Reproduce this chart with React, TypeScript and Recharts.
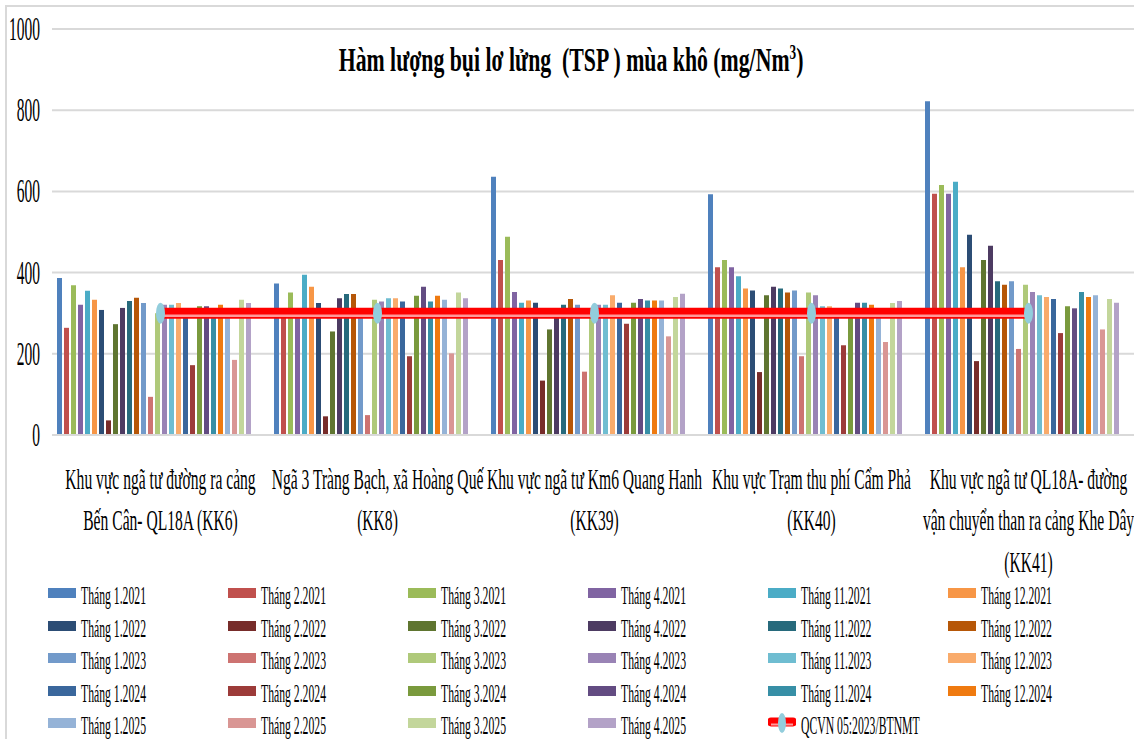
import React from "react";
import { ComposedChart, Bar, Line, XAxis, YAxis, CartesianGrid, Legend } from "recharts";

const sites = [
  "Khu vực ngã tư đường ra cảng\nBến Cân- QL18A (KK6)",
  "Ngã 3 Tràng Bạch, xã Hoàng Quế\n(KK8)",
  "Khu vực ngã tư Km6 Quang Hanh\n(KK39)",
  "Khu vực Trạm thu phí Cẩm Phả\n(KK40)",
  "Khu vực ngã tư QL18A- đường\nvận chuyển than ra cảng Khe Dây\n(KK41)",
];

const months = [
  "Tháng 1.2021", "Tháng 2.2021", "Tháng 3.2021", "Tháng 4.2021", "Tháng 11.2021", "Tháng 12.2021",
  "Tháng 1.2022", "Tháng 2.2022", "Tháng 3.2022", "Tháng 4.2022", "Tháng 11.2022", "Tháng 12.2022",
  "Tháng 1.2023", "Tháng 2.2023", "Tháng 3.2023", "Tháng 4.2023", "Tháng 11.2023", "Tháng 12.2023",
  "Tháng 1.2024", "Tháng 2.2024", "Tháng 3.2024", "Tháng 4.2024", "Tháng 11.2024", "Tháng 12.2024",
  "Tháng 1.2025", "Tháng 2.2025", "Tháng 3.2025", "Tháng 4.2025",
];

// one value per month, same order as months
const kk6 = [387, 264, 369, 321, 355, 333, 308, 36, 273, 313, 330, 338, 325, 94, 300, 321, 321, 325, 300, 172, 317, 317, 305, 321, 300, 185, 333, 325];
const kk8 = [373, 300, 351, 300, 395, 365, 325, 46, 255, 337, 347, 347, 300, 49, 333, 329, 337, 337, 329, 194, 343, 365, 329, 343, 333, 201, 351, 337];
const kk39 = [636, 431, 488, 352, 326, 331, 326, 134, 260, 300, 321, 335, 321, 156, 300, 321, 321, 344, 326, 274, 326, 335, 331, 331, 331, 243, 340, 348];
const kk40 = [593, 413, 431, 413, 391, 361, 356, 155, 344, 365, 361, 351, 356, 194, 351, 344, 317, 317, 300, 221, 300, 326, 326, 321, 300, 229, 325, 330];
const kk41 = [822, 594, 616, 594, 624, 413, 493, 182, 431, 466, 379, 370, 379, 212, 370, 352, 344, 340, 335, 251, 317, 312, 352, 340, 344, 260, 335, 326];

const qcvnName = "QCVN 05:2023/BTNMT";
const qcvn = [300, 300, 300, 300, 300];
const yTicks = [0, 200, 400, 600, 800, 1000];

const colors = [
  "#4F81BD", "#C0504D", "#9BBB59", "#8064A2", "#4BACC6", "#F79646",
  "#2C4D75", "#772C2A", "#5F7530", "#4D3B62", "#276A7C", "#B65708",
  "#729ACA", "#CD7371", "#AFC97A", "#9983B5", "#6FBDD1", "#F9AB6B",
  "#3A679C", "#9C3B39", "#7A9A3D", "#634C82", "#378FA6", "#EF7A10",
  "#95B3D7", "#D99694", "#C3D69B", "#B3A2C7",
];

const bySite = [kk6, kk8, kk39, kk40, kk41];
const data = sites.map((site, i) => {
  const row: Record<string, string | number> = { site, qcvn: qcvn[i] };
  months.forEach((_, j) => {
    row["s" + j] = bySite[i][j];
  });
  return row;
});

const FONT = "'Liberation Serif', 'Times New Roman', serif";

const SiteTick = (props: any) => {
  const { x, y, payload } = props;
  const lines = String(payload.value).split("\n");
  return (
    <g transform={`translate(${x},${y})`}>
      <text transform="scale(0.52,1)" textAnchor="middle" fontFamily={FONT} fontSize={30} fill="#000">
        {lines.map((l, i) => (
          <tspan key={i} x={0} y={54 + i * 41.5}>
            {l}
          </tspan>
        ))}
      </text>
    </g>
  );
};

const ValueTick = (props: any) => {
  const { x, y, payload } = props;
  return (
    <text
      transform={`translate(${x},${y + 11}) scale(0.47,1)`}
      textAnchor="end"
      fontFamily={FONT}
      fontSize={33}
      fill="#000"
    >
      {payload.value}
    </text>
  );
};

const renderDot = (p: any) => (
  <ellipse key={"d" + p.index} cx={p.cx} cy={p.cy} rx={4.5} ry={10.5} fill="#92CDDC" />
);

const order = [...months, qcvnName];

const LegendBox = (props: any) => {
  const items = [...(props.payload || [])]
    .filter((e: any) => order.indexOf(e.value) >= 0)
    .sort((a: any, b: any) => order.indexOf(a.value) - order.indexOf(b.value));
  return (
    <div
      style={{
        display: "grid",
        gridTemplateColumns: "repeat(6, 180px)",
        gridAutoRows: "32.5px",
        paddingLeft: 48,
        fontFamily: FONT,
      }}
    >
      {items.map((e: any) => {
        const isLine = e.value === qcvnName;
        return (
          <div key={e.value} style={{ display: "flex", alignItems: "center", height: 32.5 }}>
            {isLine ? (
              <svg width={28} height={22} style={{ flex: "none" }}>
                <line x1={3} y1={10} x2={25} y2={10} stroke="#FF0000" strokeWidth={9} strokeLinecap="round" />
                <line x1={3} y1={12.5} x2={25} y2={12.5} stroke="#FF9A9A" strokeWidth={2} />
                <ellipse cx={14} cy={11} rx={4} ry={10} fill="#92CDDC" />
              </svg>
            ) : (
              <span style={{ width: 28, height: 10, background: e.color, flex: "none" }} />
            )}
            <span
              style={{
                display: "inline-block",
                marginLeft: 5,
                fontSize: 26,
                color: "#000",
                whiteSpace: "nowrap",
                transform: "scaleX(0.45) translateY(3px)",
                transformOrigin: "left center",
              }}
            >
              {e.value}
            </span>
          </div>
        );
      })}
    </div>
  );
};

export default function App() {
  return (
    <div
      style={{
        position: "absolute",
        left: 0,
        top: 0,
        width: 1134,
        height: 739,
        background: "#fff",
        overflow: "hidden",
      }}
    >
      <style>{`.qcvn-stripe { transform: translateY(2.5px); }`}</style>
      <div
        style={{
          position: "absolute",
          left: 5,
          top: 5,
          right: -10,
          bottom: -10,
          borderLeft: "2px solid #d9d9d9",
          borderTop: "2px solid #d9d9d9",
        }}
      />
      <ComposedChart
        width={1140}
        height={739}
        data={data}
        margin={{ top: 29, right: 3, bottom: 0, left: 0 }}
        barCategoryGap={5}
        barGap={2}
      >
        <CartesianGrid vertical={false} stroke="#d9d9d9" strokeWidth={2} />
        <XAxis
          dataKey="site"
          interval={0}
          tickLine={false}
          tickSize={0}
          tickMargin={0}
          height={149}
          axisLine={{ stroke: "#d9d9d9", strokeWidth: 2 }}
          tick={<SiteTick />}
        />
        <YAxis
          domain={[0, 1000]}
          ticks={yTicks}
          width={52}
          axisLine={false}
          tickLine={false}
          tickSize={0}
          tickMargin={12}
          tick={<ValueTick />}
        />
        {months.map((m, j) => (
          <Bar key={m} dataKey={"s" + j} name={m} fill={colors[j]} isAnimationActive={false} />
        ))}
        <Line
          dataKey="qcvn"
          name="qcvn-band"
          legendType="none"
          stroke="#FF0000"
          strokeWidth={11}
          dot={false}
          activeDot={false}
          isAnimationActive={false}
        />
        <Line
          dataKey="qcvn"
          name="qcvn-stripe"
          className="qcvn-stripe"
          legendType="none"
          stroke="#FF9A9A"
          strokeWidth={2.5}
          dot={false}
          activeDot={false}
          isAnimationActive={false}
        />
        <Line
          dataKey="qcvn"
          name={qcvnName}
          stroke="#FF0000"
          strokeWidth={0}
          dot={renderDot}
          activeDot={false}
          isAnimationActive={false}
        />
        <Legend
          verticalAlign="bottom"
          content={<LegendBox />}
          wrapperStyle={{ left: 0, top: 577, width: 1134, height: 155 }}
        />
      </ComposedChart>
      <div
        style={{
          position: "absolute",
          left: 0,
          top: 32,
          width: 1142,
          textAlign: "center",
          fontFamily: FONT,
          fontWeight: "bold",
          fontSize: 33,
          lineHeight: "40px",
          whiteSpace: "pre",
        }}
      >
        <span style={{ display: "inline-block", transform: "scaleX(0.66)" }}>
          Hàm lượng bụi lơ lửng  (TSP ) mùa khô (mg/Nm<sup style={{ fontSize: 20 }}>3</sup>)
        </span>
      </div>
    </div>
  );
}
